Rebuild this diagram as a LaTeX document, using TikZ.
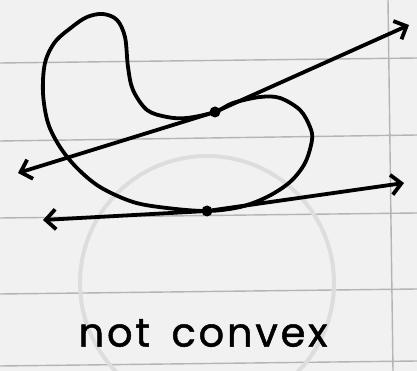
\documentclass[tikz,border=0pt]{standalone}
\usepackage{fontspec}
\newfontfamily\handfont[LetterSpace=7,WordSpace=1.6,FakeBold=1.2]{Poppins}
\usetikzlibrary{arrows.meta,positioning,calc}
\usepackage{xcolor}

\definecolor{paper}{HTML}{F1F1F1}
\definecolor{rule}{HTML}{B4B4B4}
\definecolor{bleed}{HTML}{DDDDDD}

\tikzset{
  ink/.style={line width=3.8pt,line cap=round,line join=round},
  touch/.style={circle,fill=black,inner sep=0pt,minimum size=11pt},
  paperline/.style={rule,line width=1.4pt}
}

\begin{document}
\begin{tikzpicture}[x=1pt,y=-1pt,>={Straight Barb[length=10pt,width=20pt]}]
    % paper
    \fill[paper] (0,0) rectangle (417,371);
    \useasboundingbox (0,0) rectangle (417,371);
    \draw[paperline] (0,63) -- (417,58);
    \draw[paperline] (0,141) -- (417,135);
    \draw[paperline] (0,218) -- (417,213);
    \draw[paperline] (0,294) -- (417,289);
    \draw[paperline] (0,366) -- (417,361);
    \draw[paperline] (388,0) -- (393,371);
    \draw[bleed,line width=4pt] (207,283) circle (127);

    % the non-convex set
    \draw[ink] plot[smooth cycle,tension=0.55] coordinates {
      (103,14) (117,20) (125,37) (128,67) (133,90) (147,110) (167,117)
      (187,118) (215,112) (233,103) (260,97) (280,98) (300,110) (310,127)
      (312,140) (305,163) (290,182) (267,197) (240,207) (207,211) (167,208)
      (133,202) (100,187) (77,168) (60,147) (48,123) (43,93) (45,63)
      (55,42) (72,27) (87,17)};

    % points of contact
    \node[touch] (touchA) at (215,112) {};
    \node[touch] (touchB) at (207,211) {};

    \coordinate (upL) at (18,173);
    \coordinate (upR) at (409,25);
    \coordinate (lowL) at (43,220);
    \coordinate (lowR) at (404,183);

    \draw[ink,<-] (upL) -- (touchA);
    \draw[ink,->] (touchA) -- (upR);
    \draw[ink,<-] (lowL) -- (touchB);
    \draw[ink,->] (touchB) -- (lowR);

    \node[font=\handfont\fontsize{40}{44}\selectfont] (caption) at (203,333) {not convex};
  \end{tikzpicture}
\end{document}
